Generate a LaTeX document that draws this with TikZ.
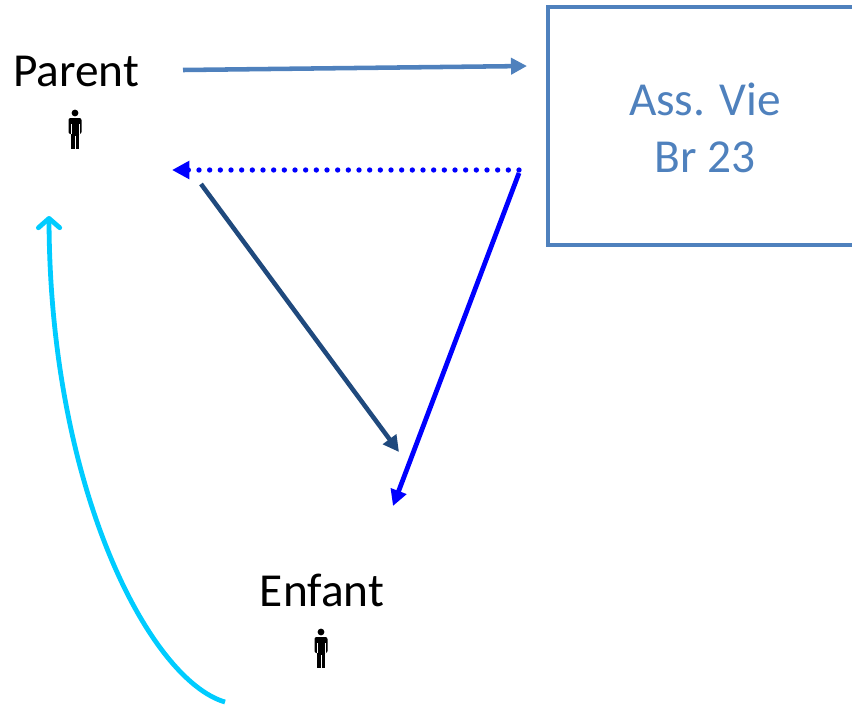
\documentclass[tikz,border=0pt]{standalone}
\usepackage{fontspec}
\setmainfont{Carlito}
\usetikzlibrary{arrows.meta}
\definecolor{accent}{HTML}{4F81BD}
\definecolor{darkblue}{HTML}{1F497D}
\definecolor{pureblue}{HTML}{0000FF}
\definecolor{skyblue}{HTML}{00CCFF}
\tikzset{
  person/.pic={
    \fill (0,-17) circle (3.4);
    \fill[rounded corners=1.5] (-6.5,-12) rectangle (6.5,4);
    \fill (-4,0) rectangle (4,19);
    \draw[white,line width=0.5pt] (0,6) -- (0,19) (-4,-6) -- (-4,4) (4,-6) -- (4,4);
  },
  conn/.style={line width=3.4pt,-{Triangle[length=12pt,width=12pt]}}
}
\begin{document}
\begin{tikzpicture}[x=0.75pt,y=-0.75pt,font=\fontsize{35.5}{43}\selectfont]
  \useasboundingbox (0,0) rectangle (852,704);
  \clip (0,0) rectangle (852,704);
  \draw[accent,line width=3pt] (548,7) rectangle (890,245);
  \node[accent,align=center] (assvie) at (705,128) {Ass. Vie\\Br 23};
  \foreach \x/\y/\lbl in {76/71/Parent, 322/590/Enfant} {
    \node (\lbl) at (\x,\y) {\lbl};
    \pic (icon\lbl) at (\x-1,\y+59) {person};
  }
  \coordinate (parentout) at (183,70);
  \coordinate (assin) at (527,66);
  \coordinate (assout) at (519,170);
  \coordinate (parentin) at (172,170);
  \coordinate (parentdown) at (201,184);
  \coordinate (enfantin) at (399,452);
  \coordinate (assdown) at (519,173);
  \coordinate (enfanttip) at (393,506);
  \coordinate (enfantout) at (225,702);
  \coordinate (parentup) at (49,216);
  \draw[conn,accent] (parentout) -- (assin);
  \draw[pureblue,line width=4pt,dash pattern=on 0pt off 8pt,line cap=round,-{Triangle[length=13pt,width=13pt]}] (assout) -- (parentin);
  \draw[conn,darkblue] (parentdown) -- (enfantin);
  \draw[conn,pureblue,line width=3.6pt] (assdown) -- (enfanttip);
  \draw[skyblue,line width=3.6pt,-{Straight Barb[round,length=7pt,width=16pt]}] (enfantout) .. controls (150,680) and (50,490) .. (parentup);
\end{tikzpicture}
\end{document}
